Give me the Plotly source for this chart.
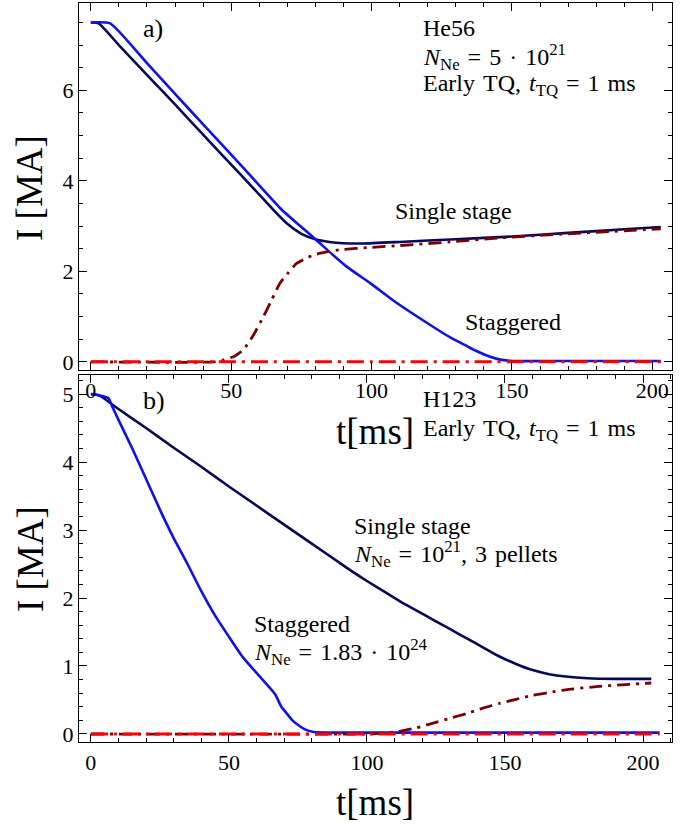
import plotly.graph_objects as go

# ---------------- data: panel a) (He56) ----------------
t_a_single = [0, 2.8, 10, 20, 30, 40, 50, 58, 65, 70, 75, 80, 85, 90, 97, 110, 130, 150, 170, 190, 203]
I_a_single = [7.5, 7.48, 7.0, 6.34, 5.69, 5.02, 4.36, 3.83, 3.36, 3.05, 2.83, 2.71, 2.65, 2.62, 2.615, 2.65, 2.71, 2.77, 2.85, 2.93, 2.98]

t_a_stag = [0, 6.9, 20, 30, 40, 55, 68, 75, 80.2, 85, 91, 99.5, 109, 118, 128, 133, 137, 141, 145, 150, 170, 203]
I_a_stag = [7.5, 7.48, 6.6, 5.92, 5.25, 4.24, 3.36, 2.98, 2.70, 2.43, 2.11, 1.74, 1.30, 0.93, 0.54, 0.38, 0.25, 0.14, 0.06, 0.02, 0.02, 0.02]

t_a_re = [0, 44, 47, 51, 54.4, 58, 61.5, 64.5, 67.4, 70.5, 73.4, 77, 80.5, 85, 89, 100, 110, 128, 146, 170, 203]
I_a_re = [0, 0, 0.04, 0.12, 0.27, 0.6, 1.0, 1.38, 1.74, 1.98, 2.18, 2.3, 2.38, 2.44, 2.48, 2.53, 2.57, 2.65, 2.74, 2.83, 2.94]

t_a_re0 = [0, 100, 203]
I_a_re0 = [0, 0, 0]

# ---------------- data: panel b) (H123) ----------------
t_b_single = [0, 3, 10, 20, 30, 40, 50, 60, 70, 80, 90, 95, 100, 106, 112, 118, 124, 130, 136, 142, 148, 154, 160, 166, 172, 180, 190, 203]
I_b_single = [5.0, 4.98, 4.78, 4.50, 4.21, 3.93, 3.64, 3.36, 3.08, 2.80, 2.52, 2.38, 2.25, 2.10, 1.95, 1.815, 1.68, 1.545, 1.41, 1.275, 1.14, 1.03, 0.94, 0.88, 0.845, 0.82, 0.81, 0.81]

t_b_stag = [0, 3, 6.4, 7.6, 10, 15, 20, 25, 30, 35, 40, 45, 50, 55, 60, 65, 66.8, 69, 71, 73, 75.8, 78, 80.7, 90, 206]
I_b_stag = [5.0, 4.98, 4.94, 4.83, 4.62, 4.2, 3.75, 3.3, 2.88, 2.5, 2.1, 1.74, 1.43, 1.13, 0.9, 0.67, 0.58, 0.4, 0.3, 0.2, 0.11, 0.06, 0.03, 0.02, 0.02]

t_b_re = [0, 100, 105, 112, 118, 124, 130, 136, 142, 148, 154, 160, 166, 172, 184, 203]
I_b_re = [0, 0, 0.01, 0.04, 0.09, 0.16, 0.23, 0.30, 0.38, 0.45, 0.51, 0.57, 0.61, 0.65, 0.70, 0.75]

t_b_re0 = [0, 100, 206]
I_b_re0 = [0, 0, 0]

NAVY = "rgb(8,8,88)"
BLUE = "rgb(15,15,240)"
DRED = "rgb(120,0,0)"
RED = "rgb(255,0,0)"
FONT = "Liberation Serif"
SP = "\u2004"  # wider space, like TeX spacing

fig = go.Figure()

def add(t, I, color, xa, ya, dash="solid", width=2.6):
    fig.add_trace(go.Scatter(x=t, y=I, mode="lines", xaxis=xa, yaxis=ya,
                             line=dict(color=color, width=width, dash=dash,
                                       shape="spline", smoothing=0.5),
                             showlegend=False, hoverinfo="skip"))

# panel a (top) -> x2/y2
add(t_a_single, I_a_single, NAVY, "x2", "y2")
add(t_a_stag, I_a_stag, BLUE, "x2", "y2")
add(t_a_re, I_a_re, DRED, "x2", "y2", dash="13px,6px,3px,6px", width=2.8)
add(t_a_re0, I_a_re0, RED, "x2", "y2", dash="17px,6px,3px,6px", width=3)
# panel b (bottom) -> x/y
add(t_b_single, I_b_single, NAVY, "x", "y")
add(t_b_stag, I_b_stag, BLUE, "x", "y")
add(t_b_re, I_b_re, DRED, "x", "y", dash="13px,6px,3px,6px", width=2.8)
add(t_b_re0, I_b_re0, RED, "x", "y", dash="17px,6px,3px,6px", width=3)

axis_common = dict(showline=True, linecolor="black", linewidth=1.3, mirror="allticks",
                   ticks="inside", tickcolor="black", ticklen=8, tickwidth=1,
                   showgrid=False, zeroline=False,
                   tickfont=dict(family=FONT, size=22, color="black"))

fig.update_layout(
    width=692, height=827,
    margin=dict(l=79, r=20, t=3, b=85),
    paper_bgcolor="white", plot_bgcolor="white",
    font=dict(family=FONT, color="black"),
    xaxis=dict(domain=[0, 1], range=[-4.3, 210.5], dtick=50, anchor="y",
               minor=dict(dtick=10, ticks="inside", ticklen=4, tickcolor="black"),
               **axis_common),
    yaxis=dict(domain=[0, 0.4966], range=[-0.118, 5.28], dtick=1, anchor="x",
               minor=dict(dtick=0.2, ticks="inside", ticklen=4, tickcolor="black"),
               **axis_common),
    xaxis2=dict(domain=[0, 1], range=[-4.2, 207], dtick=50, anchor="y2",
                minor=dict(dtick=10, ticks="inside", ticklen=4, tickcolor="black"),
                **axis_common),
    yaxis2=dict(domain=[0.5034, 1], range=[-0.18, 7.93], dtick=2, anchor="x2",
                minor=dict(dtick=0.5, ticks="inside", ticklen=4, tickcolor="black"),
                **axis_common),
)

def note(text, x, y, xr, yr, size=24):
    fig.add_annotation(text=text, x=x, y=y, xref=xr, yref=yr, showarrow=False,
                       xanchor="left", yanchor="middle", borderpad=0,
                       font=dict(family=FONT, size=size, color="black"))

early = f"Early{SP}TQ,{SP}<i>t</i><sub>TQ</sub>{SP}={SP}1{SP}ms"

# panel a texts
note("a)", 18.2, 7.37, "x2", "y2", 26)
note("He56", 118, 7.37, "x2", "y2")
note(f"<i>N</i><sub>Ne</sub>{SP}={SP}5{SP}·{SP}10<sup>21</sup>", 118, 6.74, "x2", "y2")
note(early, 118, 6.12, "x2", "y2")
note("Single stage", 108, 3.34, "x2", "y2")
note("Staggered", 132.9, 0.87, "x2", "y2")

# panel b texts
note("b)", 18.5, 4.91, "x", "y", 26)
note("H123", 120, 4.93, "x", "y")
note(early, 120, 4.47, "x", "y")
note("Single stage", 94.8, 3.06, "x", "y")
note(f"<i>N</i><sub>Ne</sub>{SP}={SP}10<sup>21</sup>,{SP}3{SP}pellets", 94.8, 2.65, "x", "y")
note("Staggered", 58.9, 1.62, "x", "y")
note(f"<i>N</i><sub>Ne</sub>{SP}={SP}1.83{SP}·{SP}10<sup>24</sup>", 58.9, 1.21, "x", "y")

# axis titles
def title(text, x, y, angle=0, size=37):
    fig.add_annotation(text=text, x=x, y=y, xref="paper", yref="paper", showarrow=False,
                       xanchor="center", yanchor="middle", textangle=angle,
                       font=dict(family=FONT, size=size, color="black"))

title("t[ms]", 0.499, 0.4195)
title("t[ms]", 0.499, -0.0825)
title("I [MA]", -0.0826, 0.7497, -90)
title("I [MA]", -0.0826, 0.2476, -90)

fig.write_html("out.html", config={"displayModeBar": False},
               post_script="document.body.style.margin='0px';")
